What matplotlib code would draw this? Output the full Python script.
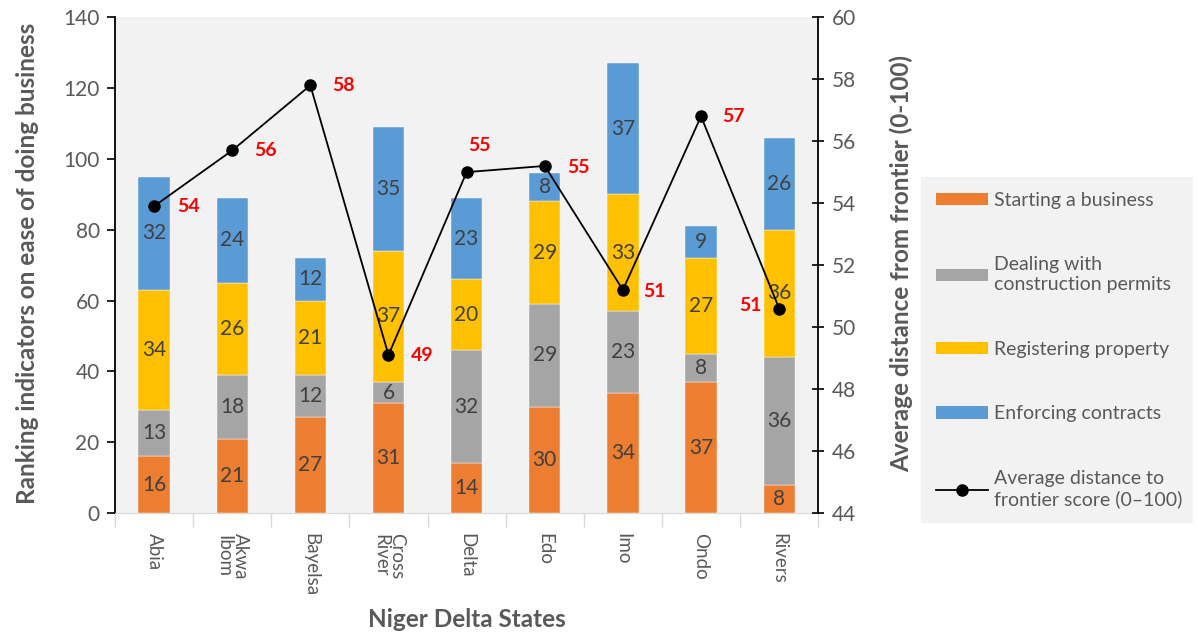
import numpy as np
import matplotlib.pyplot as plt
from matplotlib.lines import Line2D
from matplotlib.patches import Patch

plt.rcParams['font.family'] = ['Lato', 'DejaVu Sans']

# Data
states = ['Abia', 'Akwa\nIbom', 'Bayelsa', 'Cross\nRiver', 'Delta', 'Edo', 'Imo', 'Ondo', 'Rivers']
starting_business = [16, 21, 27, 31, 14, 30, 34, 37, 8]
construction_permits = [13, 18, 12, 6, 32, 29, 23, 8, 36]
registering_property = [34, 26, 21, 37, 20, 29, 33, 27, 36]
enforcing_contracts = [32, 24, 12, 35, 23, 8, 37, 9, 26]
dtf_score = [53.9, 55.7, 57.8, 49.1, 55.0, 55.2, 51.2, 56.8, 50.6]

series_names = ['Starting a business', 'Dealing with\nconstruction permits',
                'Registering property', 'Enforcing contracts']
line_name = 'Average distance to\nfrontier score (0\u2013100)'
colors = ['#ED7D31', '#A5A5A5', '#FFC000', '#5B9BD5']

# label offsets for the red score labels (points)
label_offsets = [(25, 0), (24, 0), (24, 0), (24, 0), (9, 19), (24, -1), (23, -1), (23, 0), (-21, 2)]

text_col = '#595959'
fig = plt.figure(figsize=(11.98, 6.35), dpi=100)
ax = fig.add_axes([0.096, 0.192, 0.587, 0.781])
ax.set_facecolor('#F2F2F2')

x = np.arange(len(states))
bottom = np.zeros(len(states))
for vals, col in zip([starting_business, construction_permits, registering_property, enforcing_contracts], colors):
    vals = np.array(vals)
    ax.bar(x, vals, 0.4, bottom=bottom, color=col, edgecolor='#ffffff', linewidth=0.3, zorder=2)
    for xi, b, v in zip(x, bottom, vals):
        ax.text(xi, b + v / 2, str(v), ha='center', va='center', fontsize=15, color='#404040', zorder=3)
    bottom += vals

ax.set_xlim(-0.5, len(states) - 0.5)
ax.set_ylim(0, 140)
ax.set_yticks(range(0, 141, 20))
ax.set_xticks(x)
ax.set_xticklabels(states, rotation=270, fontsize=13.5, color=text_col, va='top', ha='center',
                   linespacing=0.95)
ax.set_xticks(np.arange(-0.5, len(states)), minor=True)
ax.tick_params(axis='x', which='major', length=0, pad=14)
ax.tick_params(axis='x', which='minor', length=10, color='#D9D9D9', width=1)
ax.tick_params(axis='y', labelsize=15, labelcolor=text_col, length=6, width=1.2, color='black', pad=5)
for s in ['top', 'right']:
    ax.spines[s].set_visible(False)
ax.spines['bottom'].set_color('#D9D9D9')
ax.spines['left'].set_linewidth(1.3)

ax2 = ax.twinx()
ax2.plot(x, dtf_score, color='black', lw=1.3, marker='o', markersize=8, zorder=4)
for xi, v, off in zip(x, dtf_score, label_offsets):
    ax2.annotate('%.0f' % v, (xi, v), xytext=off, textcoords='offset points', ha='center', va='center',
                 fontsize=14, fontweight='bold', color='#FF0000')
ax2.set_ylim(44, 60)
ax2.set_yticks(range(44, 61, 2))
ax2.tick_params(axis='y', labelsize=15, labelcolor=text_col, length=8, width=1.2, direction='inout', pad=6)
for s in ['top', 'left', 'bottom']:
    ax2.spines[s].set_visible(False)
ax2.spines['right'].set_linewidth(1.3)

fig.text(0.023, 0.585, 'Ranking indicators on ease of doing business', rotation=90, ha='center', va='center',
         fontsize=17.5, fontweight='bold', color=text_col)
fig.text(0.752, 0.585, 'Average distance from frontier (0-100)', rotation=90, ha='center', va='center',
         fontsize=17.5, fontweight='bold', color=text_col)
fig.text(0.39, 0.024, 'Niger Delta States', ha='center', va='center',
         fontsize=17.5, fontweight='bold', color=text_col)

handles = [Patch(facecolor=c) for c in colors]
handles.append(Line2D([0], [0], color='black', lw=1.3, marker='o', markersize=8))
leg = fig.legend(handles, series_names + [line_name], loc='center',
                 bbox_to_anchor=(0.769, 0.175, 0.227, 0.548), mode='expand',
                 fontsize=14, labelspacing=2.45, handlelength=2.7, handleheight=0.6,
                 handletextpad=0.3, borderpad=0.75, borderaxespad=0, frameon=True, fancybox=False)
leg.get_frame().set_facecolor('#F2F2F2')
leg.get_frame().set_edgecolor('none')
leg.get_frame().set_alpha(1)
for t in leg.get_texts():
    t.set_color(text_col)

fig.savefig('out.png', dpi=100)
